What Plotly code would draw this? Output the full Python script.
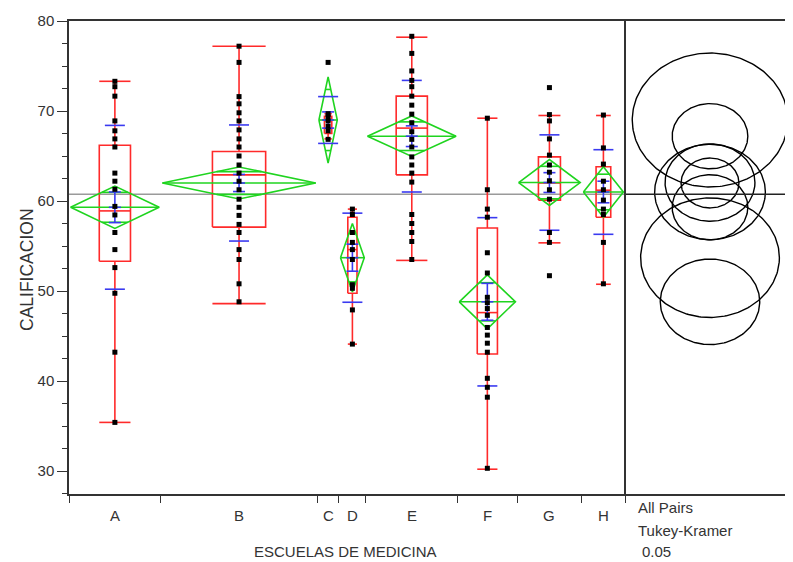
import numpy as np
import plotly.graph_objects as go

# ---------------- data ----------------
schools = ["A", "B", "C", "D", "E", "F", "G", "H"]
n_obs = [17, 29, 4, 5, 17, 11, 12, 8]

pts_A = [73.3, 72.7, 71.65, 68.9, 67.8, 66.9, 66.0, 63.1, 62.2, 61.3, 59.4, 58.45,
         56.5, 54.6, 52.6, 49.75, 43.2, 35.4]
pts_B = [77.2, 75.4, 71.6, 70.8, 69.8, 68.9, 67.9, 66.9, 66.0, 65.0, 64.0, 63.1, 62.2,
         61.25, 60.2, 59.3, 58.4, 57.4, 56.5, 54.6, 53.5, 50.8, 48.8]
pts_C = [75.4, 69.7, 69.35, 68.9, 68.3, 67.8, 66.85]
pts_D = [59.1, 58.5, 56.5, 55.4, 54.6, 53.5, 50.7, 50.3, 47.9, 44.1]
pts_E = [78.3, 76.4, 74.45, 73.4, 72.7, 71.65, 70.65, 69.65, 68.7, 67.7, 66.85, 66.0,
         64.9, 64.0, 63.1, 62.1, 58.5, 57.5, 56.5, 55.5, 53.5]
pts_F = [69.2, 61.25, 59.1, 58.2, 54.25, 52.0, 49.3, 48.7, 48.05, 47.3, 45.95, 45.1,
         44.2, 43.2, 40.3, 39.3, 38.2, 30.3]
pts_G = [72.6, 69.6, 68.9, 66.9, 65.1, 64.0, 63.2, 62.25, 61.25, 60.2, 56.5, 55.4, 51.7]
pts_H = [69.55, 65.9, 64.1, 62.2, 61.25, 60.1, 59.1, 58.5, 55.4, 50.8]

means = [59.3, 62.0, 69.0, 53.7, 67.2, 48.8, 62.05, 61.0]
ci_half = [2.35, 1.78, 4.8, 3.8, 2.25, 3.0, 2.55, 2.8]
sd = [9.1, 6.45, 2.6, 4.95, 6.2, 9.35, 5.3, 4.7]
se = [1.7, 0.95, 0.9, 1.5, 1.15, 2.05, 1.1, 1.2]
q1 = [53.3, 57.1, 67.5, 49.75, 62.9, 43.0, 60.1, 58.2]
median = [58.9, 62.9, 68.9, 54.6, 68.1, 47.6, 62.0, 61.2]
q3 = [66.2, 65.5, 69.4, 58.2, 71.65, 57.0, 64.9, 63.8]
whisk_lo = [35.4, 48.6, 66.9, 44.1, 53.4, 30.2, 55.35, 50.75]
whisk_hi = [73.3, 77.2, 69.7, 59.1, 78.2, 69.2, 69.5, 69.5]
circle_r = [3.62, 2.77, 7.44, 6.64, 3.62, 4.76, 4.3, 5.3]
grand_mean = 60.75

all_pts = [pts_A, pts_B, pts_C, pts_D, pts_E, pts_F, pts_G, pts_H]

# ---------------- layout geometry (page pixels, body has 8px margin) ----------------
OFF = 8
PAGE_W, PAGE_H = 793, 562
W, H = PAGE_W - OFF, PAGE_H - OFF
plot_left, plot_top, plot_bottom, plot_right = 69, 21, 494, 793
ML = plot_left - OFF
MT = plot_top - OFF
MB = H - (plot_bottom - OFF)
MR = (OFF + W) - plot_right
plot_w = W - ML - MR
plot_h = H - MT - MB
split_px = 625
main_frac = (split_px - plot_left) / plot_w

edges = np.concatenate([[0], np.cumsum(n_obs)])
centers = (edges[:-1] + edges[1:]) / 2
total = float(edges[-1])
px_per_unit = (split_px - plot_left) / total
sd_half = 10 / px_per_unit
se_half = 6 / px_per_unit

RED = "#ff2a2a"
GREEN = "#1fd41f"
BLUE = "#3a3af0"
FONT = "Liberation Sans, Arial, sans-serif"
TXT = "#333333"

fig = go.Figure()

# red quantile boxes
rx, ry = [], []
for i in range(len(schools)):
    c = centers[i]
    w = n_obs[i] * 0.34 / 2
    rx += [c - w, c + w, c + w, c - w, c - w, None]
    ry += [q1[i], q1[i], q3[i], q3[i], q1[i], None]
    rx += [c - w, c + w, None]
    ry += [median[i], median[i], None]
    rx += [c, c, None, c, c, None]
    ry += [q3[i], whisk_hi[i], None, q1[i], whisk_lo[i], None]
    rx += [c - w, c + w, None, c - w, c + w, None]
    ry += [whisk_hi[i], whisk_hi[i], None, whisk_lo[i], whisk_lo[i], None]
fig.add_trace(go.Scatter(x=rx, y=ry, mode="lines", line=dict(color=RED, width=1.6),
                         hoverinfo="skip", showlegend=False))

# green means diamonds
gx, gy = [], []
for i in range(len(schools)):
    c = centers[i]
    x0, x1 = edges[i] + 0.3, edges[i + 1] - 0.3
    m, h = means[i], ci_half[i]
    gx += [x0, c, x1, c, x0, None, x0, x1, None]
    gy += [m, m + h, m, m - h, m, None, m, m, None]
    hw = (x1 - x0) / 2 * (1 - 1 / np.sqrt(2))
    for s in (1, -1):
        yy = m + s * h / np.sqrt(2)
        gx += [c - hw, c + hw, None]
        gy += [yy, yy, None]
fig.add_trace(go.Scatter(x=gx, y=gy, mode="lines", line=dict(color=GREEN, width=1.6),
                         hoverinfo="skip", showlegend=False))

# blue std dev lines and std error bars
bx, by = [], []
for i in range(len(schools)):
    c = centers[i]
    m = means[i]
    for s in (1, -1):
        bx += [c - sd_half, c + sd_half, None]
        by += [m + s * sd[i], m + s * sd[i], None]
        bx += [c - se_half, c + se_half, None]
        by += [m + s * se[i], m + s * se[i], None]
    bx += [c, c, None, c - se_half, c + se_half, None]
    by += [m - se[i], m + se[i], None, m, m, None]
fig.add_trace(go.Scatter(x=bx, y=by, mode="lines", line=dict(color=BLUE, width=1.6),
                         hoverinfo="skip", showlegend=False))

# data points
px, py = [], []
for i, pts in enumerate(all_pts):
    px += [centers[i]] * len(pts)
    py += pts
fig.add_trace(go.Scatter(x=px, y=py, mode="markers",
                         marker=dict(symbol="square", size=5, color="black"),
                         hoverinfo="skip", showlegend=False))

# comparison circles
t = np.linspace(0, 2 * np.pi, 241)
for i in range(len(schools)):
    r = circle_r[i]
    fig.add_trace(go.Scatter(x=r * np.cos(t), y=means[i] + r * np.sin(t),
                             xaxis="x2", yaxis="y", mode="lines",
                             line=dict(color="black", width=1.4),
                             hoverinfo="skip", showlegend=False))

# circle panel x scale (~10.45 px per unit, centred at page x=710)
circ_px_unit = 10.45
circ_center_px = 710
x2_lo = -(circ_center_px - split_px) / circ_px_unit
x2_hi = (plot_right - circ_center_px) / circ_px_unit


def fx(page_x):
    return (page_x - plot_left) / plot_w


def fy(page_y):
    return (plot_bottom - page_y) / plot_h


shapes = [
    dict(type="line", xref="paper", yref="y", x0=0, x1=main_frac, y0=grand_mean, y1=grand_mean,
         line=dict(color="#9a9a9a", width=1.5), layer="below"),
    dict(type="line", xref="paper", yref="y", x0=main_frac, x1=1, y0=grand_mean, y1=grand_mean,
         line=dict(color="#222222", width=1.5)),
    dict(type="line", xref="paper", yref="paper", x0=main_frac, x1=main_frac, y0=0, y1=1,
         line=dict(color="#333333", width=2)),
]

annotations = []
for i, s in enumerate(schools):
    annotations.append(dict(x=centers[i], y=fy(515), xref="x", yref="paper", text=s,
                            showarrow=False, yanchor="middle",
                            font=dict(family=FONT, size=15, color=TXT)))
annotations += [
    dict(x=fx(345), y=fy(551), xref="paper", yref="paper", text="ESCUELAS DE MEDICINA",
         showarrow=False, yanchor="middle", font=dict(family=FONT, size=15, color=TXT)),
    dict(x=fx(15), y=fy(270), xref="paper", yref="paper",
         text="CALIFICACION", textangle=-90, showarrow=False,
         font=dict(family=FONT, size=17.5, color=TXT)),
    dict(x=fx(636), y=fy(508), xref="paper", yref="paper", text="All Pairs",
         showarrow=False, xanchor="left", yanchor="middle",
         font=dict(family=FONT, size=15, color=TXT)),
    dict(x=fx(636), y=fy(530), xref="paper", yref="paper", text="Tukey-Kramer",
         showarrow=False, xanchor="left", yanchor="middle",
         font=dict(family=FONT, size=15, color=TXT)),
    dict(x=fx(640), y=fy(551), xref="paper", yref="paper", text="0.05",
         showarrow=False, xanchor="left", yanchor="middle",
         font=dict(family=FONT, size=15, color=TXT)),
]

fig.update_layout(
    width=W, height=H,
    margin=dict(l=ML, r=MR, t=MT, b=MB, pad=0),
    paper_bgcolor="white", plot_bgcolor="white",
    showlegend=False,
    shapes=shapes,
    annotations=annotations,
    xaxis=dict(domain=[0, main_frac], range=[0, total], showgrid=False, zeroline=False,
               showline=True, linecolor="#333333", linewidth=1.5, mirror=True,
               tickmode="array", tickvals=list(edges), ticktext=[""] * len(edges),
               ticks="outside", ticklen=7, tickwidth=1.2, tickcolor="#333333"),
    xaxis2=dict(domain=[main_frac, 1], range=[x2_lo, x2_hi], anchor="y", showgrid=False,
                zeroline=False, showline=True, linecolor="#333333", linewidth=1.5, mirror=True,
                showticklabels=False, ticks=""),
    yaxis=dict(range=[80 - plot_h / 9.0, 80], showgrid=False, zeroline=False,
               showline=True, linecolor="#333333", linewidth=1.5, mirror=False,
               tickmode="array", tickvals=[30, 40, 50, 60, 70, 80],
               ticks="outside", ticklen=10, tickwidth=1.2, tickcolor="#333333",
               tickfont=dict(family=FONT, size=15, color=TXT),
               minor=dict(dtick=2.5, tick0=0, ticks="outside", ticklen=5, tickwidth=1.2,
                          tickcolor="#333333", showgrid=False)),
)

fig.write_html("out.html")
